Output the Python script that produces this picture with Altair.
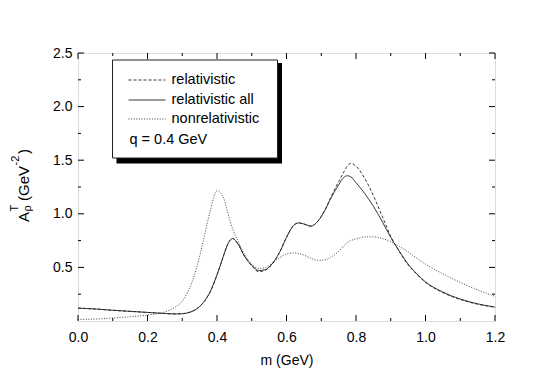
import altair as alt
import pandas as pd

# ---- data ----
mass = [0.00, 0.05, 0.10, 0.15, 0.20, 0.25, 0.28, 0.30, 0.32, 0.34, 0.36, 0.38,
        0.40, 0.42, 0.43, 0.445, 0.46, 0.48, 0.50, 0.52, 0.54, 0.56, 0.58, 0.60,
        0.62, 0.635, 0.65, 0.67, 0.69, 0.71, 0.73, 0.75, 0.765, 0.775, 0.785, 0.80,
        0.825, 0.85, 0.875, 0.90, 0.925, 0.95, 0.975, 1.00, 1.05, 1.10, 1.15, 1.20]

rel_all = [0.12, 0.112, 0.10, 0.09, 0.08, 0.07, 0.066, 0.068, 0.08, 0.11, 0.17, 0.27,
           0.43, 0.62, 0.71, 0.77, 0.72, 0.60, 0.52, 0.47, 0.48, 0.54, 0.64, 0.78,
           0.89, 0.915, 0.905, 0.885, 0.93, 1.03, 1.16, 1.27, 1.34, 1.355, 1.345, 1.29,
           1.19, 1.07, 0.93, 0.78, 0.65, 0.53, 0.44, 0.365, 0.27, 0.205, 0.16, 0.13]

rel = [0.12, 0.112, 0.10, 0.09, 0.08, 0.07, 0.066, 0.068, 0.08, 0.11, 0.17, 0.27,
       0.43, 0.62, 0.71, 0.77, 0.72, 0.60, 0.515, 0.46, 0.475, 0.535, 0.64, 0.78,
       0.89, 0.915, 0.905, 0.885, 0.93, 1.03, 1.17, 1.30, 1.39, 1.445, 1.47, 1.445,
       1.33, 1.17, 0.98, 0.79, 0.645, 0.525, 0.435, 0.36, 0.265, 0.20, 0.157, 0.128]

nonrel = [0.015, 0.018, 0.028, 0.04, 0.056, 0.085, 0.13, 0.185, 0.30, 0.48, 0.74, 1.02,
          1.215, 1.14, 1.02, 0.86, 0.75, 0.62, 0.53, 0.49, 0.50, 0.54, 0.59, 0.625,
          0.635, 0.63, 0.615, 0.585, 0.565, 0.57, 0.60, 0.65, 0.70, 0.73, 0.75, 0.765,
          0.785, 0.785, 0.77, 0.74, 0.695, 0.645, 0.585, 0.53, 0.44, 0.36, 0.29, 0.23]

x_major = [0.0, 0.2, 0.4, 0.6, 0.8, 1.0, 1.2]
x_minor = [0.1, 0.3, 0.5, 0.7, 0.9, 1.1]
y_major = [0.5, 1.0, 1.5, 2.0, 2.5]
y_minor = [0.25, 0.75, 1.25, 1.75, 2.25]

legend_labels = ["relativistic", "relativistic all", "nonrelativistic"]
note_text = "q = 0.4 GeV"
x_title = "m (GeV)"

W, H = 417, 268
FONT = "Liberation Sans"

df = pd.DataFrame({"m": mass, "rel": rel, "rel_all": rel_all, "nonrel": nonrel})

xs = alt.Scale(domain=[0, 1.2], nice=False, zero=False)
ys = alt.Scale(domain=[0, 2.5], nice=False, zero=False)

base = alt.Chart(df)

axis_x = alt.Axis(values=x_major, format=".1f", ticks=False, domain=False, grid=False,
                  labelFont=FONT, labelFontSize=14, labelColor="black", labelPadding=9,
                  labelFlush=False, titleFont=FONT, titleFontSize=14, titleFontWeight="normal",
                  titleColor="black", titlePadding=9)
axis_y = alt.Axis(values=y_major, format=".1f", ticks=False, domain=False, grid=False,
                  labelFont=FONT, labelFontSize=14, labelColor="black", labelPadding=6,
                  labelFlush=False)

line_all = base.mark_line(color="#222", strokeWidth=0.9, interpolate="monotone").encode(
    x=alt.X("m:Q", scale=xs, axis=axis_x, title=x_title),
    y=alt.Y("rel_all:Q", scale=ys, axis=axis_y, title=""),
)
line_rel = base.mark_line(color="#222", strokeWidth=0.9, strokeDash=[3, 2],
                          interpolate="monotone").encode(
    x=alt.X("m:Q", scale=xs), y=alt.Y("rel:Q", scale=ys))
line_non = base.mark_line(color="#444", strokeWidth=1.0, strokeDash=[1, 1.6],
                          interpolate="monotone").encode(
    x=alt.X("m:Q", scale=xs), y=alt.Y("nonrel:Q", scale=ys))

layers = [line_all, line_rel, line_non]

# inward ticks on all four sides
def xticks(vals, length):
    d = pd.DataFrame({"v": vals})
    bot = alt.Chart(d).mark_rule(color="black", strokeWidth=1).encode(
        x=alt.X("v:Q", scale=xs), y=alt.value(H), y2=alt.value(H - length))
    top = alt.Chart(d).mark_rule(color="black", strokeWidth=1).encode(
        x=alt.X("v:Q", scale=xs), y=alt.value(0), y2=alt.value(length))
    return [bot, top]

def yticks(vals, length):
    d = pd.DataFrame({"v": vals})
    left = alt.Chart(d).mark_rule(color="black", strokeWidth=1).encode(
        y=alt.Y("v:Q", scale=ys), x=alt.value(0), x2=alt.value(length))
    right = alt.Chart(d).mark_rule(color="black", strokeWidth=1).encode(
        y=alt.Y("v:Q", scale=ys), x=alt.value(W), x2=alt.value(W - length))
    return [left, right]

layers += xticks(x_major, 6) + xticks(x_minor, 3) + yticks(y_major, 6) + yticks(y_minor, 3)

one = alt.Data(values=[{}])

# legend box with shadow
shadow = alt.Chart(one).mark_rect(color="black").encode(
    x=alt.value(38.5), x2=alt.value(204), y=alt.value(10), y2=alt.value(110.5))
box = alt.Chart(one).mark_rect(fill="white", stroke="#222", strokeWidth=1).encode(
    x=alt.value(34.5), x2=alt.value(199.5), y=alt.value(7), y2=alt.value(105))
layers += [shadow, box]

row_y = [27, 47, 66]
dashes = [[3, 2], None, [1, 1.6]]
for lab, yy, dsh in zip(legend_labels, row_y, dashes):
    kw = {"color": "#222", "strokeWidth": 0.9}
    if dsh is not None:
        kw["strokeDash"] = dsh
    layers.append(alt.Chart(one).mark_rule(**kw).encode(
        x=alt.value(50.5), x2=alt.value(87.5), y=alt.value(yy)))
    layers.append(alt.Chart(one).mark_text(
        text=lab, font=FONT, fontSize=14.5, align="left", baseline="middle", color="black"
    ).encode(x=alt.value(93.5), y=alt.value(yy)))

layers.append(alt.Chart(one).mark_text(
    text=note_text, font=FONT, fontSize=14.5, align="left", baseline="middle", color="black"
).encode(x=alt.value(51.5), y=alt.value(87)))

# rotated y-axis title  A_rho^T (GeV^-2)
ytitle_parts = [("A", 15, -49.5, 169), ("ρ", 11, -47.0, 158.5), ("T", 11, -60.0, 158.5),
                ("(GeV", 15, -49.5, 148), ("-2", 11, -59.5, 112.5), (")", 15, -49.5, 101)]
for txt, fs, xx, yy in ytitle_parts:
    layers.append(alt.Chart(one).mark_text(
        text=txt, font=FONT, fontSize=fs, angle=270, align="left", baseline="alphabetic",
        color="black").encode(x=alt.value(xx), y=alt.value(yy)))

chart = alt.layer(*layers).properties(
    width=W, height=H,
    autosize=alt.AutoSizeParams(type="none"),
    padding={"left": 70, "top": 45, "right": 40, "bottom": 50},
).configure_view(stroke="black", strokeWidth=1).configure(background="white")

chart.save("out.html", embed_options={"renderer": "svg", "actions": False})
